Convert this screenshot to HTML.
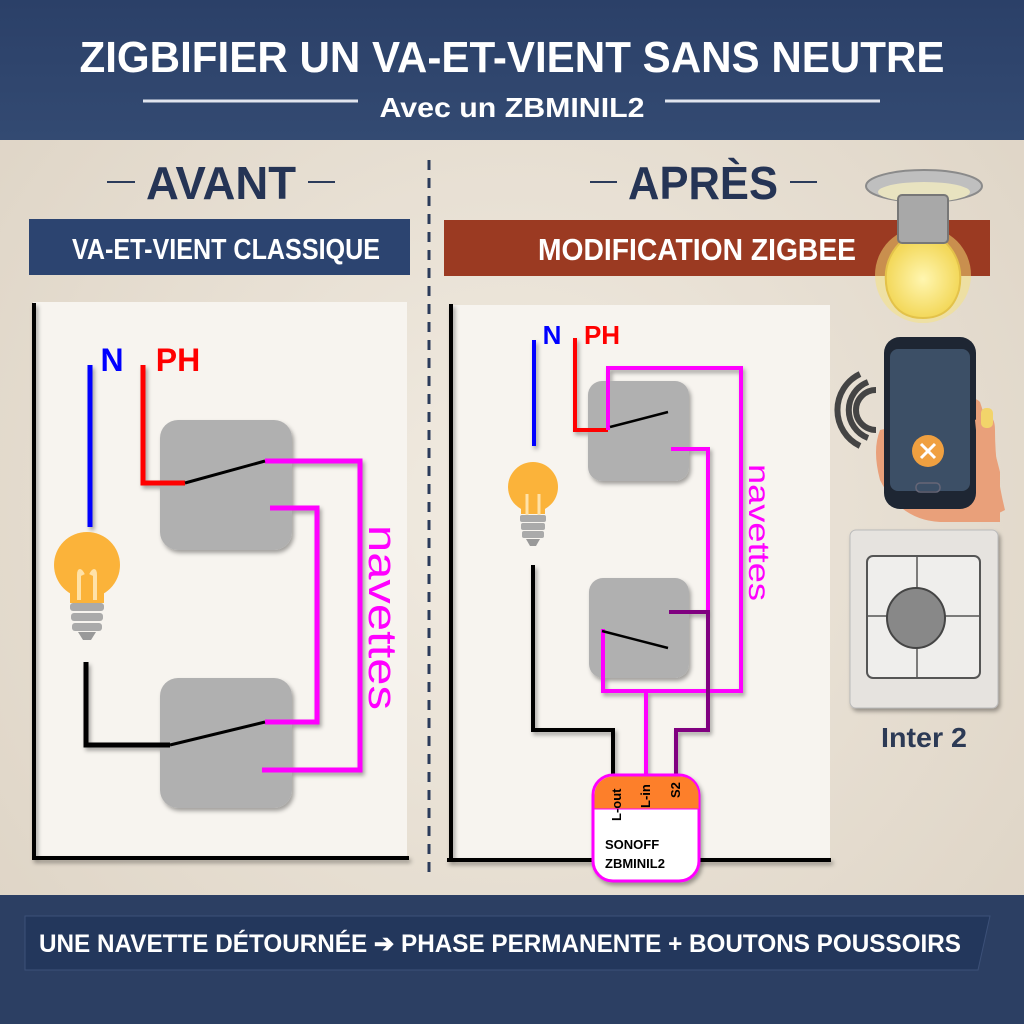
<!DOCTYPE html>
<html><head><meta charset="utf-8"><style>
html,body{margin:0;padding:0;width:1024px;height:1024px;overflow:hidden;background:#e9e2d6}
svg{display:block}
text{font-family:"Liberation Sans",sans-serif;font-weight:bold}
</style></head><body>
<svg width="1024" height="1024" viewBox="0 0 1024 1024" xmlns="http://www.w3.org/2000/svg">
<defs>
<linearGradient id="hdr" x1="0" y1="0" x2="0" y2="1"><stop offset="0" stop-color="#2b4068"/><stop offset="1" stop-color="#334a72"/></linearGradient>
<radialGradient id="bg" cx="0.5" cy="0.5" r="0.7"><stop offset="0" stop-color="#f1ebe1"/><stop offset="1" stop-color="#ddd3c4"/></radialGradient>
<radialGradient id="glow" cx="0.5" cy="0.5" r="0.5"><stop offset="0" stop-color="#fff6b0"/><stop offset="1" stop-color="#f3d85a"/></radialGradient>
<filter id="sh" x="-10%" y="-10%" width="130%" height="130%"><feDropShadow dx="2" dy="3" stdDeviation="2" flood-opacity="0.35"/></filter>
</defs>
<rect x="0" y="0" width="1024" height="1024" fill="url(#bg)"/>
<rect x="0" y="0" width="1024" height="140" fill="url(#hdr)"/>
<rect x="0" y="895" width="1024" height="129" fill="#2c3f63"/>
<text x="512" y="72" fill="#fff" font-size="44" text-anchor="middle" textLength="865" lengthAdjust="spacingAndGlyphs">ZIGBIFIER UN VA-ET-VIENT SANS NEUTRE</text>
<line x1="143" y1="101" x2="358" y2="101" stroke="#dfe4ee" stroke-width="3"/>
<line x1="665" y1="101" x2="880" y2="101" stroke="#dfe4ee" stroke-width="3"/>
<text x="512" y="117" fill="#fff" font-size="28" text-anchor="middle" textLength="265" lengthAdjust="spacingAndGlyphs">Avec un ZBMINIL2</text>
<line x1="429" y1="160" x2="429" y2="872" stroke="#2b3b5a" stroke-width="3" stroke-dasharray="10 8"/>
<line x1="107" y1="182" x2="135" y2="182" stroke="#2b3b5a" stroke-width="2"/>
<line x1="308" y1="182" x2="335" y2="182" stroke="#2b3b5a" stroke-width="2"/>
<text x="221" y="199" fill="#253455" font-size="46" text-anchor="middle" textLength="150" lengthAdjust="spacingAndGlyphs">AVANT</text>
<line x1="590" y1="182" x2="617" y2="182" stroke="#2b3b5a" stroke-width="2"/>
<line x1="790" y1="182" x2="817" y2="182" stroke="#2b3b5a" stroke-width="2"/>
<text x="703" y="199" fill="#253455" font-size="46" text-anchor="middle" textLength="150" lengthAdjust="spacingAndGlyphs">APRÈS</text>
<rect x="29" y="219" width="381" height="56" fill="#2c4470"/>
<text x="226" y="259" fill="#fff" font-size="29" text-anchor="middle" textLength="308" lengthAdjust="spacingAndGlyphs">VA-ET-VIENT CLASSIQUE</text>
<rect x="444" y="220" width="546" height="56" fill="#9b3a22"/>
<text x="697" y="260" fill="#fff" font-size="31" text-anchor="middle" textLength="318" lengthAdjust="spacingAndGlyphs">MODIFICATION ZIGBEE</text>

<!-- LEFT PANEL -->
<rect x="33" y="302" width="374" height="556" fill="#f7f4ef"/>
<g filter="url(#sh)">
<line x1="34" y1="303" x2="34" y2="860" stroke="#000" stroke-width="4"/>
<line x1="32" y1="858" x2="409" y2="858" stroke="#000" stroke-width="4"/>
<rect x="160" y="420" width="132" height="130" rx="18" fill="#b0b0b0"/>
<rect x="160" y="678" width="132" height="130" rx="18" fill="#b0b0b0"/>
<polyline points="90,365 90,527" fill="none" stroke="#0000ff" stroke-width="5"/>
<polyline points="143,365 143,483 185,483" fill="none" stroke="#ff0000" stroke-width="5"/>
<polyline points="265,461 360,461 360,770 262,770" fill="none" stroke="#ff00ff" stroke-width="5"/>
<polyline points="270,508 317,508 317,722 265,722" fill="none" stroke="#ff00ff" stroke-width="5"/>
<polyline points="86,662 86,745 170,745" fill="none" stroke="#000" stroke-width="5"/>
</g>
<line x1="185" y1="483" x2="265" y2="461" stroke="#000" stroke-width="3"/>
<line x1="170" y1="745" x2="265" y2="722" stroke="#000" stroke-width="3"/>
<text x="112" y="371" fill="#0000ff" font-size="32" text-anchor="middle">N</text>
<text x="178" y="371" fill="#ff0000" font-size="32" text-anchor="middle">PH</text>
<text transform="translate(369,525) rotate(90)" fill="#ff00ff" font-size="40" textLength="185" lengthAdjust="spacingAndGlyphs" style="font-weight:normal">navettes</text>
<g>
<circle cx="87" cy="565" r="33" fill="#fbb33a"/>
<rect x="70" y="585" width="34" height="18" fill="#fbb33a"/>
<path d="M79 600 V575 q0-8 4 0 M95 600 V575 q0-8 -4 0" stroke="#ffe2a8" stroke-width="4" fill="none"/>
<rect x="70" y="603" width="34" height="8" rx="3" fill="#aaa"/>
<rect x="71" y="613" width="32" height="8" rx="3" fill="#aaa"/>
<rect x="72" y="623" width="30" height="8" rx="3" fill="#aaa"/>
<path d="M78 632 h18 l-5 8 h-8z" fill="#999"/>
</g>

<!-- RIGHT PANEL -->
<rect x="451" y="305" width="379" height="553" fill="#f7f4ef"/>
<g filter="url(#sh)">
<line x1="451" y1="304" x2="451" y2="862" stroke="#000" stroke-width="4"/>
<line x1="447" y1="860" x2="831" y2="860" stroke="#000" stroke-width="4"/>
<rect x="588" y="381" width="101" height="100" rx="14" fill="#b0b0b0"/>
<rect x="589" y="578" width="100" height="100" rx="14" fill="#b0b0b0"/>
<polyline points="534,340 534,446" fill="none" stroke="#0000ff" stroke-width="4"/>
<polyline points="575,338 575,430 608,430" fill="none" stroke="#ff0000" stroke-width="4"/>
<polyline points="608,430 608,368 741,368 741,691 603,691 603,629" fill="none" stroke="#ff00ff" stroke-width="4"/>
<polyline points="671,449 708,449 708,612" fill="none" stroke="#ff00ff" stroke-width="4"/>
<polyline points="669,612 708,612 708,730 676,730 676,775" fill="none" stroke="#800080" stroke-width="4"/>
<polyline points="646,691 646,775" fill="none" stroke="#ff00ff" stroke-width="4"/>
<polyline points="533,565 533,730 613,730 613,775" fill="none" stroke="#000" stroke-width="4"/>
</g>
<line x1="610" y1="427" x2="668" y2="412" stroke="#000" stroke-width="2.5"/>
<line x1="602" y1="631" x2="668" y2="648" stroke="#000" stroke-width="2.5"/>
<text x="552" y="344" fill="#0000ff" font-size="26" text-anchor="middle">N</text>
<text x="602" y="344" fill="#ff0000" font-size="26" text-anchor="middle">PH</text>
<text transform="translate(749,464) rotate(90)" fill="#ff00ff" font-size="30" textLength="137" lengthAdjust="spacingAndGlyphs" style="font-weight:normal">navettes</text>
<g>
<circle cx="533" cy="487" r="25" fill="#fbb33a"/>
<rect x="521" y="500" width="24" height="14" fill="#fbb33a"/>
<path d="M527 515 V494 M539 515 V494" stroke="#ffe2a8" stroke-width="3"/>
<rect x="520" y="515" width="26" height="7" rx="2" fill="#aaa"/>
<rect x="521" y="523" width="24" height="7" rx="2" fill="#aaa"/>
<rect x="522" y="531" width="22" height="7" rx="2" fill="#aaa"/>
<path d="M526 539 h14 l-4 7 h-6z" fill="#999"/>
</g>
<!-- SONOFF -->
<g filter="url(#sh)">
<rect x="593" y="775" width="106" height="106" rx="20" fill="#fff" stroke="#ff00ff" stroke-width="3"/>
<path d="M594.5 809 V795 a18.5 18.5 0 0 1 18.5 -18.5 h67 a18.5 18.5 0 0 1 18.5 18.5 V809z" fill="#fd7f2c"/>
</g>
<line x1="594" y1="809" x2="698" y2="809" stroke="#ff00ff" stroke-width="1"/>
<text transform="translate(621,821) rotate(-90)" font-size="13" fill="#000">L-out</text>
<text transform="translate(650,808) rotate(-90)" font-size="13" fill="#000">L-in</text>
<text transform="translate(680,798) rotate(-90)" font-size="13" fill="#000">S2</text>
<text x="605" y="849" font-size="13" fill="#000">SONOFF</text>
<text x="605" y="868" font-size="13" fill="#000">ZBMINIL2</text>

<!-- ceiling bulb -->
<g>
<ellipse cx="924" cy="186" rx="58" ry="16" fill="#bfbfbf" stroke="#8a8a8a" stroke-width="2"/>
<ellipse cx="924" cy="192" rx="46" ry="10" fill="#e8e3c0"/>
<circle cx="923" cy="275" r="48" fill="#f7e37a" opacity="0.5"/>
<path d="M903 240 q-22 20 -16 50 q8 28 36 28 q28 0 36 -28 q6 -30 -16 -50z" fill="url(#glow)" stroke="#e3c24a" stroke-width="2"/>
<rect x="898" y="195" width="50" height="48" rx="4" fill="#a8a8a8" stroke="#777" stroke-width="2"/>
</g>
<!-- phone -->
<g>
<path d="M850 390 a20 20 0 0 0 0 40 M842 382 a30 30 0 0 0 0 56 M834 374 a40 40 0 0 0 0 72" fill="none" stroke="#444" stroke-width="6" transform="translate(26,0)"/>
<path d="M880 430 q-8 20 0 50 q20 40 60 42 l60 0 l0 -50 q-10 -40 -20 -70 q-10 -10 -20 10 z" fill="#e9a07a"/>
<rect x="884" y="337" width="92" height="172" rx="16" fill="#1e2633"/>
<rect x="890" y="349" width="80" height="142" rx="8" fill="#3c4f66"/>
<circle cx="928" cy="451" r="16" fill="#f0a040"/>
<path d="M921 444 l14 14 M935 444 l-14 14" stroke="#fff" stroke-width="3"/>
<rect x="916" y="483" width="24" height="9" rx="4" fill="none" stroke="#667" stroke-width="1.5"/>
<path d="M975 420 q20 -12 20 10 q0 40 10 80 l-20 10z" fill="#e9a07a"/>
<rect x="981" y="408" width="12" height="20" rx="5" fill="#f2d46a"/>
</g>
<!-- switch plate -->
<g filter="url(#sh)">
<rect x="850" y="530" width="148" height="178" rx="6" fill="#e6e3df" stroke="#bbb"/>
<rect x="867" y="556" width="113" height="122" rx="6" fill="#efeeec" stroke="#555" stroke-width="2"/>
<line x1="917" y1="556" x2="917" y2="678" stroke="#555" stroke-width="1.5"/>
<line x1="867" y1="616" x2="980" y2="616" stroke="#555" stroke-width="1.5"/>
<ellipse cx="916" cy="618" rx="29" ry="30" fill="#888" stroke="#444" stroke-width="2"/>
</g>
<text x="924" y="747" fill="#2c3a55" font-size="28" text-anchor="middle" textLength="86" lengthAdjust="spacingAndGlyphs">Inter 2</text>

<path d="M25 916 H990 L978 970 H25z" fill="#23375c" stroke="#3c5078" stroke-width="1"/>
<text x="500" y="952" fill="#fff" font-size="25" text-anchor="middle" textLength="922" lengthAdjust="spacingAndGlyphs">UNE NAVETTE DÉTOURNÉE ➔ PHASE PERMANENTE + BOUTONS POUSSOIRS</text>
</svg>
</body></html>
